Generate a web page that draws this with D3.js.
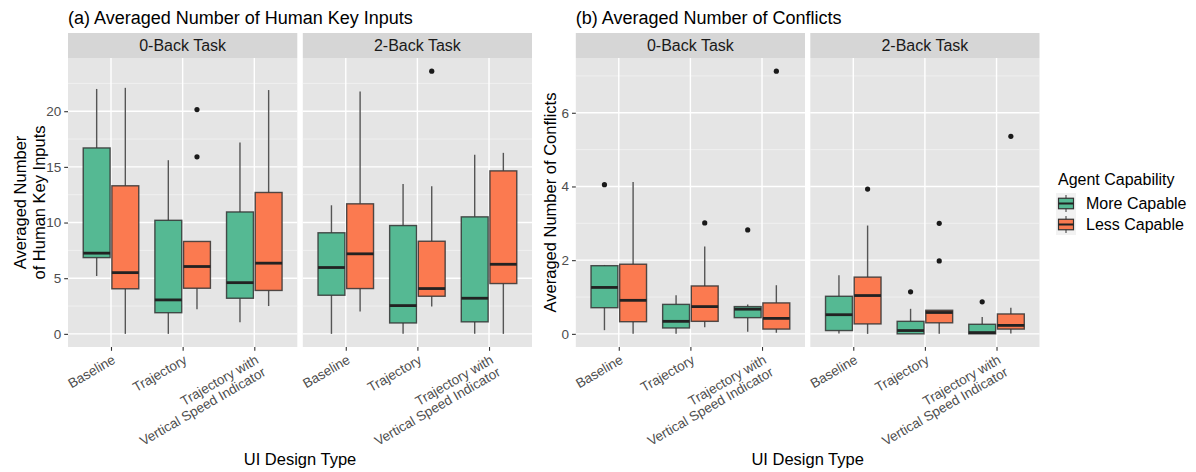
<!DOCTYPE html>
<html>
<head>
<meta charset="utf-8">
<script src="https://cdn.jsdelivr.net/npm/d3@7"></script>
<style>
  body { margin: 0; background: #ffffff; }
  svg { display: block; font-family: "Liberation Sans", Arial, Helvetica, sans-serif; }
</style>
</head>
<body>
<svg id="fig" width="1196" height="472"></svg>
<script>
// ---- data -------------------------------------------------------------
const designs = ["Baseline", "Trajectory", "Trajectory with\nVertical Speed Indicator"];
const tasks = ["0-Back Task", "2-Back Task"];
const capabilities = ["More Capable", "Less Capable"];
const capabilityColors = ["#55b993", "#fb7a50"];

// Box summaries per UI design: [lower whisker, Q1, median, Q3, upper whisker]
// (a) human key inputs
const keysMore0 = [[5.2, 6.85, 7.25, 16.7, 22.0], [0, 1.9, 3.05, 10.2, 15.6], [1.05, 3.2, 4.6, 10.95, 17.2]];
const keysLess0 = [[0, 4.05, 5.5, 13.3, 22.1], [2.2, 4.1, 6.05, 8.3, 8.3], [2.5, 3.9, 6.35, 12.7, 21.9]];
const keysMore2 = [[0, 3.47, 5.96, 9.08, 11.55], [0, 0.98, 2.54, 9.73, 13.47], [0, 1.08, 3.2, 10.51, 16.1]];
const keysLess2 = [[2.0, 4.07, 7.19, 11.68, 21.77], [2.45, 3.38, 4.07, 8.32, 13.26], [0, 4.52, 6.25, 14.64, 16.26]];
const keysOutMore0 = [[], [], []];
const keysOutLess0 = [[], [20.15, 15.9], []];
const keysOutMore2 = [[], [], []];
const keysOutLess2 = [[], [23.6], []];

// (b) conflicts
const confMore0 = [[0.1, 0.71, 1.26, 1.85, 1.87], [0, 0.16, 0.34, 0.8, 1.05], [0.06, 0.44, 0.67, 0.74, 0.8]];
const confLess0 = [[0, 0.33, 0.91, 1.89, 4.12], [0.18, 0.34, 0.74, 1.3, 2.37], [0.03, 0.13, 0.42, 0.84, 1.32]];
const confMore2 = [[0.01, 0.09, 0.52, 1.02, 1.59], [0, 0, 0.09, 0.34, 0.68], [0, 0, 0.035, 0.26, 0.46]];
const confLess2 = [[0, 0.27, 1.04, 1.54, 2.94], [0, 0.3, 0.58, 0.64, 0.64], [0.01, 0.13, 0.23, 0.54, 0.71]];
const confOutMore0 = [[4.05], [], [2.82]];
const confOutLess0 = [[], [3.01], [7.13]];
const confOutMore2 = [[], [1.14], [0.87]];
const confOutLess2 = [[3.93], [3.0, 1.98], [5.36]];

const keyTicks = [0, 5, 10, 15, 20];
const keyMinor = [2.5, 7.5, 12.5, 17.5, 22.5];
const conflictTicks = [0, 2, 4, 6];
const conflictMinor = [1, 3, 5, 7];

// ---- layout -----------------------------------------------------------
const svg = d3.select("#fig");
const stripTop = 33, panelTop = 58, panelBottom = 347;
const tickLen = 3.8;
const INK = "#333333";

function drawChart(cfg) {
  const vals = [];
  cfg.stats.forEach(t => t.forEach(grp => grp.forEach(s => vals.push(s[0], s[4]))));
  cfg.outliers.forEach(t => t.forEach(grp => grp.forEach(o => vals.push(...o))));
  const [lo, hi] = d3.extent(vals);
  const pad = (hi - lo) * 0.05;
  const y = d3.scaleLinear().domain([lo - pad, hi + pad]).range([panelBottom, panelTop]);

  // title
  svg.append("text")
    .attr("x", cfg.panels[0][0]).attr("y", 24)
    .attr("font-size", 18).attr("fill", "#000")
    .text(cfg.title);

  cfg.panels.forEach((p, ti) => {
    const [x0, x1] = p;
    const x = d3.scalePoint().domain(designs).range([x0, x1]).padding(0.6);
    const step = x.step();
    const g = svg.append("g");

    // facet strip
    g.append("rect").attr("x", x0).attr("y", stripTop)
      .attr("width", x1 - x0).attr("height", panelTop - stripTop).attr("fill", "#d6d6d6");
    g.append("text").attr("x", (x0 + x1) / 2).attr("y", (stripTop + panelTop) / 2)
      .attr("dy", "0.36em").attr("text-anchor", "middle")
      .attr("font-size", 16).attr("fill", "#1a1a1a").text(tasks[ti]);

    // panel background and grid
    g.append("rect").attr("x", x0).attr("y", panelTop)
      .attr("width", x1 - x0).attr("height", panelBottom - panelTop).attr("fill", "#e5e5e5");
    g.selectAll(".minor").data(cfg.minor).join("line")
      .attr("x1", x0).attr("x2", x1).attr("y1", d => y(d)).attr("y2", d => y(d))
      .attr("stroke", "#f5f5f5").attr("stroke-width", 0.7);
    g.selectAll(".major").data(cfg.ticks).join("line")
      .attr("x1", x0).attr("x2", x1).attr("y1", d => y(d)).attr("y2", d => y(d))
      .attr("stroke", "#ffffff").attr("stroke-width", 1.4);
    g.selectAll(".vmajor").data(designs).join("line")
      .attr("x1", d => x(d)).attr("x2", d => x(d)).attr("y1", panelTop).attr("y2", panelBottom)
      .attr("stroke", "#ffffff").attr("stroke-width", 1.4);

    // boxplots
    capabilities.forEach((c, gi) => {
      const off = (gi === 0 ? -0.2 : 0.2) * step;
      const bw = 0.375 * step;
      cfg.stats[ti][gi].forEach((s, di) => {
        const cx = x(designs[di]) + off;
        g.append("line").attr("x1", cx).attr("x2", cx).attr("y1", y(s[0])).attr("y2", y(s[1]))
          .attr("stroke", "#555").attr("stroke-width", 1.4);
        g.append("line").attr("x1", cx).attr("x2", cx).attr("y1", y(s[3])).attr("y2", y(s[4]))
          .attr("stroke", "#555").attr("stroke-width", 1.4);
        g.append("rect").attr("x", cx - bw / 2).attr("y", y(s[3]))
          .attr("width", bw).attr("height", Math.max(0, y(s[1]) - y(s[3])))
          .attr("fill", capabilityColors[gi]).attr("stroke", INK).attr("stroke-opacity", 0.85)
          .attr("stroke-width", 1.4);
        g.append("line").attr("x1", cx - bw / 2).attr("x2", cx + bw / 2)
          .attr("y1", y(s[2])).attr("y2", y(s[2]))
          .attr("stroke", "#222").attr("stroke-width", 2.8);
        cfg.outliers[ti][gi][di].forEach(o => {
          g.append("circle").attr("cx", cx).attr("cy", y(o)).attr("r", 2.6).attr("fill", "#1a1a1a");
        });
      });
    });

    // x axis ticks and rotated labels
    const ax = g.append("g").attr("transform", `translate(0,${panelBottom})`)
      .call(d3.axisBottom(x).tickSize(tickLen).tickFormat(""));
    ax.select(".domain").remove();
    ax.selectAll(".tick line").attr("stroke", INK).attr("stroke-width", 1.1);
    designs.forEach(d => {
      const t = g.append("text")
        .attr("transform", `translate(${x(d)},${panelBottom + tickLen + 2.6}) rotate(-30)`)
        .attr("text-anchor", "end").attr("font-size", 13.5).attr("fill", "#4d4d4d");
      d.split("\n").forEach((ln, i) => {
        t.append("tspan").attr("x", 0).attr("dy", i === 0 ? "0.78em" : "1.05em").text(ln);
      });
    });

    // y axis on the first facet only
    if (ti === 0) {
      const ay = g.append("g").attr("transform", `translate(${x0},0)`)
        .call(d3.axisLeft(y).tickValues(cfg.ticks).tickSize(tickLen).tickPadding(3));
      ay.select(".domain").remove();
      ay.selectAll(".tick line").attr("stroke", INK).attr("stroke-width", 1.1);
      ay.selectAll(".tick text").attr("font-size", 13.5).attr("fill", "#4d4d4d")
        .attr("font-family", "Liberation Sans, Arial, sans-serif");
    }
  });

  // y axis title
  const cy = (panelTop + panelBottom) / 2;
  cfg.yTitle.forEach((ln, i) => {
    svg.append("text")
      .attr("transform", `translate(${cfg.yTitleX[i]},${cy}) rotate(-90)`)
      .attr("text-anchor", "middle").attr("font-size", 16.5).attr("fill", "#000")
      .text(ln);
  });

  // x axis title
  svg.append("text")
    .attr("x", (cfg.panels[0][0] + cfg.panels[1][1]) / 2).attr("y", 465)
    .attr("text-anchor", "middle").attr("font-size", 16.5).attr("fill", "#000")
    .text("UI Design Type");
}

drawChart({
  title: "(a) Averaged Number of Human Key Inputs",
  panels: [[68, 297.3], [302.8, 532]],
  stats: [[keysMore0, keysLess0], [keysMore2, keysLess2]],
  outliers: [[keysOutMore0, keysOutLess0], [keysOutMore2, keysOutLess2]],
  ticks: keyTicks,
  minor: keyMinor,
  yTitle: ["Averaged Number", "of Human Key Inputs"],
  yTitleX: [25.5, 45]
});

drawChart({
  title: "(b) Averaged Number of Conflicts",
  panels: [[575.8, 805], [810.3, 1039.5]],
  stats: [[confMore0, confLess0], [confMore2, confLess2]],
  outliers: [[confOutMore0, confOutLess0], [confOutMore2, confOutLess2]],
  ticks: conflictTicks,
  minor: conflictMinor,
  yTitle: ["Averaged Number of Conflicts"],
  yTitleX: [556]
});

// ---- legend -----------------------------------------------------------
const legend = svg.append("g");
legend.append("text").attr("x", 1058).attr("y", 185)
  .attr("font-size", 16).attr("fill", "#000").text("Agent Capability");
capabilities.forEach((c, i) => {
  const ky = 193 + i * 21, kx = 1056, ks = 20, kh = 21;
  const k = legend.append("g");
  k.append("rect").attr("x", kx).attr("y", ky).attr("width", ks).attr("height", kh).attr("fill", "#f2f2f2");
  const cx = kx + ks / 2, bw = ks * 0.75;
  k.append("line").attr("x1", cx).attr("x2", cx).attr("y1", ky + kh * 0.1).attr("y2", ky + kh * 0.9)
    .attr("stroke", "#555").attr("stroke-width", 1.2);
  k.append("rect").attr("x", cx - bw / 2).attr("y", ky + kh * 0.25).attr("width", bw).attr("height", kh * 0.5)
    .attr("fill", capabilityColors[i]).attr("stroke", INK).attr("stroke-width", 1.2);
  k.append("line").attr("x1", cx - bw / 2).attr("x2", cx + bw / 2).attr("y1", ky + kh / 2).attr("y2", ky + kh / 2)
    .attr("stroke", "#222").attr("stroke-width", 2);
  legend.append("text").attr("x", 1086).attr("y", ky + kh / 2).attr("dy", "0.36em")
    .attr("font-size", 16).attr("fill", "#000").text(c);
});
</script>
</body>
</html>
